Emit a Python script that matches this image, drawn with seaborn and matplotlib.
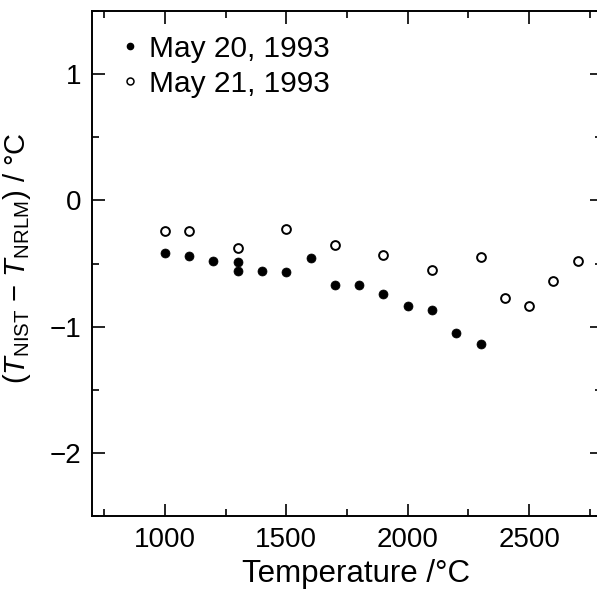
import numpy as np
import pandas as pd
import matplotlib
matplotlib.use("Agg")
import matplotlib.pyplot as plt
import seaborn as sns
from matplotlib.ticker import MultipleLocator
from matplotlib.lines import Line2D

sns.set_style("ticks", {'axes.edgecolor': 'black', 'text.color': 'black',
                        'xtick.color': 'black', 'ytick.color': 'black',
                        'axes.labelcolor': 'black'})
plt.rcParams['font.family'] = ['Liberation Sans', 'DejaVu Sans']
plt.rcParams['mathtext.fontset'] = 'custom'
plt.rcParams['mathtext.rm'] = 'Liberation Sans'
plt.rcParams['mathtext.it'] = 'Liberation Sans:italic'

# May 20, 1993 (filled)
temp_may20 = [1000, 1100, 1200, 1300, 1300, 1400, 1500, 1600, 1700, 1800, 1900, 2000, 2100, 2200, 2300]
diff_may20 = [-0.42, -0.44, -0.48, -0.49, -0.56, -0.56, -0.57, -0.46, -0.67, -0.67, -0.74, -0.84, -0.87, -1.05, -1.14]

# May 21, 1993 (open)
temp_may21 = [1000, 1100, 1300, 1500, 1700, 1900, 2100, 2300, 2400, 2500, 2600, 2700]
diff_may21 = [-0.24, -0.24, -0.38, -0.23, -0.35, -0.43, -0.55, -0.45, -0.77, -0.84, -0.64, -0.48]

labels = ['May 20, 1993', 'May 21, 1993']

df20 = pd.DataFrame({'T': temp_may20, 'd': diff_may20})
df21 = pd.DataFrame({'T': temp_may21, 'd': diff_may21})

fig = plt.figure(figsize=(5.97, 5.96), dpi=100)
ax = fig.add_axes([92/597, 1 - 516/596, 510/597, 505/596])

sns.scatterplot(data=df20, x='T', y='d', ax=ax, marker='o', s=42,
                color='black', edgecolor='black', linewidth=0.5, zorder=3)
sns.scatterplot(data=df21, x='T', y='d', ax=ax, marker='o', s=40,
                facecolor='white', edgecolor='black', linewidth=1.4, zorder=3)

ax.set_xlim(700, 2800)
ax.set_ylim(-2.5, 1.5)
ax.xaxis.set_major_locator(MultipleLocator(500))
ax.xaxis.set_minor_locator(MultipleLocator(250))
ax.yaxis.set_major_locator(MultipleLocator(1))
ax.yaxis.set_minor_locator(MultipleLocator(0.5))
ax.tick_params(which='both', direction='in', top=True, right=True, width=1.2, colors='black')
ax.tick_params(which='major', length=9, labelsize=20, pad=8)
ax.tick_params(which='minor', length=5)
ax.set_yticklabels(['−2' if t == -2 else '−1' if t == -1 else f'{t:g}' for t in ax.get_yticks()])
for s in ax.spines.values():
    s.set_linewidth(1.4)
    s.set_color('black')

ax.set_xlabel('Temperature /°C', fontsize=22.5, labelpad=6, color='black')
ax.xaxis.set_label_coords((356 - 92) / 510, -0.085)
ax.set_ylabel(r'($T_{\mathrm{NIST}}$ − $T_{\mathrm{NRLM}}$) / °C', fontsize=21, labelpad=9, color='black')
ax.yaxis.set_label_coords(-0.115, 0.51)

handles = [Line2D([], [], marker='o', linestyle='none', color='black', markersize=4.5),
           Line2D([], [], marker='o', linestyle='none', markerfacecolor='white',
                  markeredgecolor='black', markeredgewidth=1.1, markersize=5)]
ax.legend(handles, labels, loc='upper left', frameon=False, fontsize=21.5,
          handletextpad=0.05, labelspacing=0.22, handlelength=1.2,
          borderpad=0.0, bbox_to_anchor=(5 / 510, 1 - 9 / 505), labelcolor='black')

fig.savefig('out.png', dpi=100)
